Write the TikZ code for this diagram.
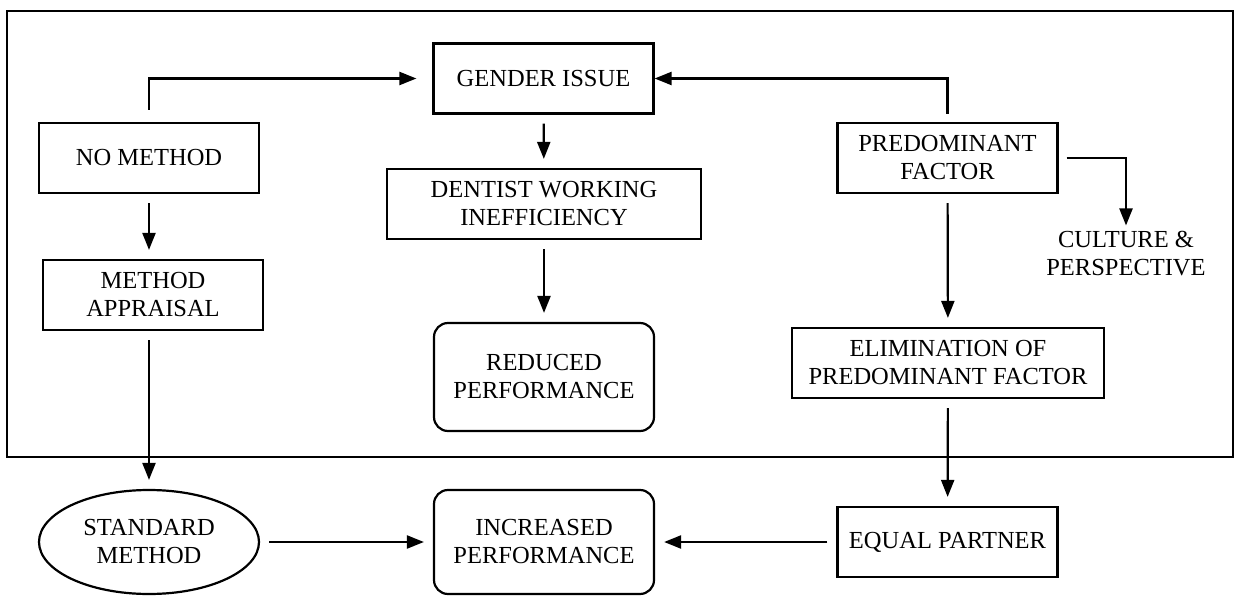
\documentclass[tikz,border=0pt]{standalone}
\usepackage{fontspec}
\setmainfont{Liberation Serif}
\usetikzlibrary{arrows.meta,shapes.geometric}

\begin{document}
\begin{tikzpicture}[x=1pt,y=-1pt,
	every node/.style={font=\fontsize{24.5}{28}\selectfont, align=center},
	box/.style={draw, line width=2.2pt, minimum width=220, minimum height=70},
	rbox/.style={box, rounded corners=14, minimum height=106},
	flow/.style={line width=2.2pt, -{Triangle[length=17pt,width=13pt]}, shorten <=9pt, shorten >=9pt}]
	\useasboundingbox (0,0) rectangle (1234,596);
	\draw[line width=2pt] (7,11) rectangle (1233,457);
	\node[box] (nometh) at (149,158) {NO METHOD};
	\node[box] (appr) at (153,295) {METHOD\\APPRAISAL};
	\node[box] (gender) at (543.5,78.5) {GENDER ISSUE};
	\node[box, minimum width=314] (dentist) at (544,204) {DENTIST WORKING\\INEFFICIENCY};
	\node[rbox, minimum height=108] (reduced) at (544,377) {REDUCED\\PERFORMANCE};
	\node[box] (pred) at (947.5,158) {PREDOMINANT\\FACTOR};
	\node[inner sep=0pt] (culture) at (1126,254) {CULTURE \&\\PERSPECTIVE};
	\node[box, minimum width=312] (elim) at (948,363) {ELIMINATION OF\\PREDOMINANT FACTOR};
	\node[draw, line width=2.2pt, ellipse, minimum width=220, minimum height=104] (standard) at (149,542) {STANDARD\\METHOD};
	\node[rbox, minimum height=104] (increased) at (544,542) {INCREASED\\PERFORMANCE};
	\node[box] (equal) at (947.5,542) {EQUAL PARTNER};
	% top row
	\draw[flow, shorten <=12pt, shorten >=16pt] (nometh.north) |- (gender.west);
	\draw[flow, shorten <=8pt, shorten >=0pt] (pred.north) |- (gender.east);
	\draw[flow, shorten <=8pt, shorten >=6pt] (pred.east) -| (culture.north);
	% columns
	\draw[flow] (gender) -- (dentist);
	\draw[flow] (dentist) -- (reduced);
	\draw[flow] (nometh.south) -- (nometh.south |- appr.north);
	\draw[flow] (appr.south -| standard.north) -- (standard.north);
	\draw[flow] (pred) -- (elim);
	\draw[flow] (elim) -- (equal);
	% bottom row
	\draw[flow] (standard) -- (increased);
	\draw[flow] (equal) -- (increased);
\end{tikzpicture}
\end{document}
